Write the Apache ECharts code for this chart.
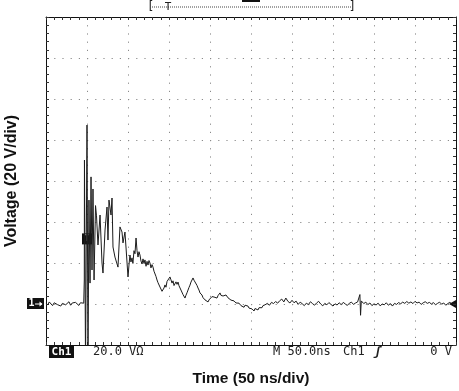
<!DOCTYPE html>
<html>
<head>
<meta charset="utf-8">
<script src="https://cdn.jsdelivr.net/npm/echarts@6/dist/echarts.min.js"></script>
<style>
html,body{margin:0;padding:0;background:#fff;}
#chart{width:459px;height:391px;}
</style>
</head>
<body>
<div id="chart"></div>
<script>
// Time axis: 50 ns/div, 10 divisions; Voltage axis: 20 V/div, 8 divisions
const timeRange = [0, 500];
const voltRange = [-20, 140];
const timeStep = 50;
const voltStep = 20;

// Trace values: [time (ns), voltage (V)]
const preTrigger = [
  [0,0.5],[2,-0.5],[4,1.0],[6,0.2],[8,-0.8],[10,0.6],[12,1.2],[14,-0.3],[16,0.4],[18,-1.0],
  [20,0.3],[22,0.9],[24,-0.4],[26,0.2],[28,1.1],[30,-0.6],[32,0.5],[34,-0.2],[36,0.8],[38,0.0],
  [40,-0.7],[42,0.6],[44,1.3],[46,0.4]
];
const burst = [
  [46.7,11.7],[46.9,70.2],[48.2,-30],[50.0,87.3],[51.2,-30],[52.4,50.7],[53.7,10.2],[54.9,62.0],
  [56.1,16.6],[57.3,56.1],[58.6,11.7],[60.4,48.0],[61.6,43.0],[63.4,28.8],[65.9,43.4],[68.3,20.0],[69.5,15.1],
  [72.0,36.1],[74.4,47.3],[75.6,31.2],[76.8,50.7],[79.3,43.4],[80.5,51.7],[81.7,27.8],[84.1,22.9],
  [87.8,18.0],[90.2,37.6],[92.7,35.1],[93.9,29.8],[96.3,35.1]
];
const decay = [
  [100.0,13.2],[101.2,19.0],[102.4,23.9],[103.6,20.5],[104.9,22.5],[106.0,19.8],[107.3,26.0],[108.5,24.5],
  [109.8,32.2],[111.0,26.0],[112.2,22.9],[113.4,25.5],[114.6,23.9],[115.8,21.0],[117.1,19.5],[118.3,22.0],
  [119.5,19.8],[120.7,21.5],[122.0,18.4],[123.2,20.8],[124.4,19.0],[125.6,21.2],[126.8,20.0],[128.0,17.6],
  [129.3,19.2],[130.5,18.0],[131.7,16.0],[132.9,16.6],[134.1,13.5],[135.4,11.7],[136.6,10.4],[137.8,9.5],
  [139.0,8.3],[140.2,7.4],[141.5,6.2],[142.7,5.9],[143.9,7.8],[145.1,9.3],[146.3,8.2],[147.6,11.0],
  [148.8,11.7],[150.0,10.6],[151.2,13.2],[152.4,11.8],[153.7,10.2],[154.9,11.3],[156.1,9.0],[157.3,9.3],
  [158.5,10.8],[159.8,9.6],[161.0,10.7],[162.2,8.9],[163.4,8.0],[164.6,6.8],[165.9,5.9],[167.1,4.6],
  [168.3,3.7],[169.5,2.9],[170.7,4.3],[172.0,5.5],[173.2,6.8],[174.4,8.1],[175.6,9.2],[176.8,10.7],
  [178.0,11.5],[179.3,12.7],[180.5,11.6],[181.7,12.0],[182.9,10.7],[184.1,9.1],[185.4,7.8],[186.6,6.8],
  [187.8,5.4],[189.0,5.0],[190.2,4.4],[191.5,3.1],[192.7,2.6],[193.9,2.0],[195.1,1.2],[196.3,1.8],
  [197.6,1.0],[198.8,2.0],[200.0,1.4],[201.2,2.4],[202.4,3.6],[203.7,2.9],[204.9,3.4],[206.1,4.2],
  [207.3,3.0],[208.5,2.9],[209.8,4.1],[211.0,4.6],[212.2,5.4],[213.4,4.2],[214.6,4.8],[215.9,3.9],
  [217.1,4.0],[218.3,3.2],[219.5,4.4],[220.7,3.6],[222.0,3.0],[223.2,2.4],[224.4,2.9],[225.6,1.9],
  [226.8,2.0],[228.0,1.2],[229.3,1.5],[230.5,0.6],[231.7,0.5],[232.9,1.0],[234.1,-0.2],[235.4,0.4],
  [236.6,0.0],[237.8,-0.8],[239.0,-0.3],[240.2,-1.0],[241.5,-1.6],[242.7,-0.6],[243.9,-0.5],[245.1,-1.4],
  [246.3,-1.0],[247.6,-2.0],[248.8,-1.5],[250.0,-2.8],[251.2,-2.4],[252.4,-3.0],[253.7,-3.4],[254.9,-2.2],
  [256.1,-2.0],[257.3,-3.1],[258.5,-2.9],[259.8,-1.8],[261.0,-2.2],[262.2,-1.0],[263.4,-1.8],[264.6,-0.8],
  [265.9,-1.5],[267.1,-0.4],[268.3,-1.0]
];
const tail = [
  [270.0,0.3],[272.5,-0.6],[275.0,0.8],[277.5,0.2],[280.0,1.2],[282.5,0.4],[285.0,1.6],[287.5,2.4],
  [290.0,1.0],[292.5,2.9],[295.0,1.3],[297.5,0.5],[300.0,1.8],[302.5,0.6],[305.0,1.4],[307.5,-0.2],
  [310.0,0.9],[312.5,0.1],[315.0,-0.8],[317.5,0.4],[320.0,-0.3],[322.5,1.1],[325.0,0.2],[327.5,-0.6],
  [330.0,0.5],[332.5,1.3],[335.0,0.0],[337.5,-0.9],[340.0,0.3],[342.5,-0.4],[345.0,0.7],[347.5,-0.2],
  [350.0,-1.0],[352.5,0.1],[355.0,-0.5],[357.5,0.6],[360.0,-0.3],[362.5,0.8],[365.0,0.0],[367.5,-0.7],
  [370.0,0.4],[372.5,0.9],[375.0,-0.2],[377.5,0.5],[380.0,1.0],[382.0,0.6],[382.8,4.6],[383.6,-5.5],
  [384.5,1.5],[386.0,1.3],[387.5,0.2],[390.0,0.9],[392.5,-0.3],[395.0,0.5],[397.5,-0.8],[400.0,0.1],
  [402.5,-0.5],[405.0,0.4],[407.5,-0.9],[410.0,0.0],[412.5,-0.4],[415.0,0.6],[417.5,-0.6],[420.0,0.2],
  [422.5,-1.0],[425.0,0.3],[427.5,-0.2],[430.0,0.7],[432.5,0.1],[435.0,0.9],[437.5,0.3],[440.0,1.2],
  [442.5,0.4],[445.0,1.0],[447.5,0.2],[450.0,1.3],[452.5,0.5],[455.0,0.9],[457.5,-0.2],[460.0,0.6],
  [462.5,1.1],[465.0,0.3],[467.5,0.8],[470.0,0.0],[472.5,0.7],[475.0,-0.4],[477.5,0.3],[480.0,0.9],
  [482.5,-0.1],[485.0,0.5],[487.5,-0.6],[490.0,0.2],[492.5,0.8],[495.0,0.0],[497.5,0.5],[500.0,0.2]
];
const groundLevel = 0;
const triggerMarker = [50, 32];

const xTitle = 'Time (50 ns/div)';
const yTitle = 'Voltage (20 V/div)';
const readoutLeft = '20.0 V\u03a9';
const readoutRight = ['M 50.0ns', 'Ch1', '\u0283', '0 V'];

const chart = echarts.init(document.getElementById('chart'), null, {renderer: 'canvas'});

const dotted = {color: '#8a8a8a', width: 1, type: [1.2, 7]};
function xAx(pos, show) {
  return {
    type: 'value', position: pos, min: timeRange[0], max: timeRange[1], interval: timeStep,
    axisLine: {show: true, onZero: false, lineStyle: {color: '#111', width: 1}},
    axisTick: {show: true, inside: true, length: 3, lineStyle: {color: '#333'}},
    minorTick: {show: true, splitNumber: 5, length: 3, lineStyle: {color: '#333'}},
    axisLabel: {show: false},
    splitLine: {show: show, lineStyle: dotted},
    name: show ? xTitle : '', nameLocation: 'middle', nameGap: 26,
    nameTextStyle: {fontFamily: 'Liberation Sans', fontWeight: 'bold', fontSize: 15.5, color: '#111'}
  };
}
function yAx(pos, show) {
  return {
    type: 'value', position: pos, min: voltRange[0], max: voltRange[1], interval: voltStep,
    axisLine: {show: true, onZero: false, lineStyle: {color: '#111', width: 1}},
    axisTick: {show: true, inside: true, length: 3, lineStyle: {color: '#333'}},
    minorTick: {show: true, splitNumber: 5, length: 3, lineStyle: {color: '#333'}},
    axisLabel: {show: false},
    splitLine: {show: show, lineStyle: dotted},
    name: show ? yTitle : '', nameLocation: 'middle', nameGap: 26, nameRotate: 90,
    nameTextStyle: {fontFamily: 'Liberation Sans', fontWeight: 'bold', fontSize: 16, color: '#111'}
  };
}

chart.setOption({
  animation: false,
  backgroundColor: '#fff',
  grid: {left: 46, right: 3, top: 17, bottom: 46, show: false, outerBoundsMode: 'none', containLabel: false},
  xAxis: [xAx('bottom', true), xAx('top', false)],
  yAxis: [yAx('left', true), yAx('right', false)],
  series: [{
    type: 'line', xAxisIndex: 0, yAxisIndex: 0,
    data: preTrigger.concat(burst, decay, tail),
    showSymbol: false, symbol: 'none', clip: true,
    lineStyle: {color: '#1c1c1c', width: 1}
  }]
});

const g = chart.convertToPixel({gridIndex: 0}, [timeRange[0], groundLevel]);
const gR = chart.convertToPixel({gridIndex: 0}, [timeRange[1], groundLevel]);
const tm = chart.convertToPixel({gridIndex: 0}, triggerMarker);
const bottomY = chart.convertToPixel({gridIndex: 0}, [0, voltRange[0]])[1];
const mono = 'DejaVu Sans Mono';
const ty = bottomY + 7;

chart.setOption({
  graphic: [
    // ground marker "1→"
    {type: 'rect', shape: {x: g[0] - 19, y: g[1] - 6, width: 17, height: 11}, style: {fill: '#111'}},
    {type: 'text', style: {x: g[0] - 14.5, y: g[1] - 0.5, text: '1', fill: '#fff', font: 'bold 10px ' + mono, align: 'center', verticalAlign: 'middle'}},
    {type: 'line', shape: {x1: g[0] - 11, y1: g[1], x2: g[0] - 4, y2: g[1]}, style: {stroke: '#fff', lineWidth: 1}},
    {type: 'polygon', shape: {points: [[g[0] - 3.5, g[1]], [g[0] - 6.5, g[1] - 2.5], [g[0] - 6.5, g[1] + 2.5]]}, style: {fill: '#fff'}},
    // trigger level arrow on right
    {type: 'polygon', shape: {points: [[gR[0] - 7, gR[1]], [gR[0], gR[1] - 4], [gR[0], gR[1] + 4]]}, style: {fill: '#111'}},
    // trigger marker box
    {type: 'rect', shape: {x: tm[0] - 5, y: tm[1] - 5, width: 10, height: 11}, style: {fill: '#111'}},
    {type: 'text', style: {x: tm[0], y: tm[1] + 0.5, text: 'T', fill: '#bbb', font: 'bold 9px ' + mono, align: 'center', verticalAlign: 'middle'}},
    // bottom readouts
    {type: 'rect', shape: {x: 49, y: ty - 6, width: 25, height: 12}, style: {fill: '#111'}},
    {type: 'text', style: {x: 61.5, y: ty, text: 'Ch1', fill: '#fff', font: 'bold 11px ' + mono, align: 'center', verticalAlign: 'middle'}},
    {type: 'text', style: {x: 93, y: ty, text: readoutLeft, fill: '#222', font: '12px ' + mono, verticalAlign: 'middle'}},
    {type: 'text', style: {x: 273, y: ty, text: readoutRight[0], fill: '#222', font: '12px ' + mono, verticalAlign: 'middle'}},
    {type: 'text', style: {x: 343, y: ty, text: readoutRight[1], fill: '#222', font: '12px ' + mono, verticalAlign: 'middle'}},
    {type: 'text', style: {x: 374, y: ty, text: readoutRight[2], fill: '#222', font: 'italic bold 12px ' + mono, verticalAlign: 'middle'}},
    {type: 'text', style: {x: 452, y: ty, text: readoutRight[3], fill: '#222', font: '12px ' + mono, align: 'right', verticalAlign: 'middle'}},
    // top record bracket
    {type: 'text', style: {x: 147, y: 7, text: '[', fill: '#222', font: '12px ' + mono, verticalAlign: 'middle'}},
    {type: 'text', style: {x: 356, y: 7, text: ']', fill: '#222', font: '12px ' + mono, align: 'right', verticalAlign: 'middle'}},
    {type: 'line', shape: {x1: 152, y1: 7, x2: 351, y2: 7}, style: {stroke: '#444', lineWidth: 1, lineDash: [1, 1]}},
    {type: 'text', style: {x: 168, y: 7, text: 'T', fill: '#222', font: '11px ' + mono, align: 'center', verticalAlign: 'middle'}},
    {type: 'rect', shape: {x: 242, y: 0, width: 18, height: 2}, style: {fill: '#111'}}
  ]
});
</script>
</body>
</html>
